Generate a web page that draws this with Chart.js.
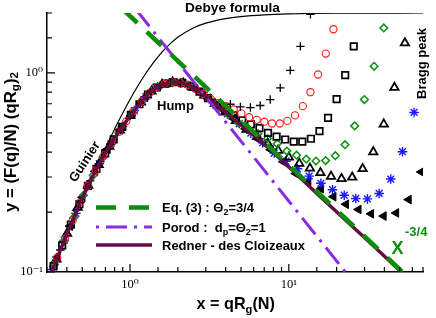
<!DOCTYPE html>
<html>
<head>
<meta charset="utf-8">
<script src="https://cdn.jsdelivr.net/npm/chart.js@4.4.1/dist/chart.umd.min.js"></script>
<style>
  html, body { margin: 0; padding: 0; background: #fff; }
</style>
</head>
<body>
<canvas id="c" width="436" height="318"></canvas>
<script>
// tick labels
const xTickValues = [1, 10];
const xTickLabels = ['10\u2070', '10\u00b9'];
const yTickValues = [0.1, 1];
const yTickLabels = ['10\u207b\u00b9', '10\u2070'];

// Debye formula
const debyeX = [0.3, 0.35, 0.4, 0.5, 0.6, 0.7, 0.8, 0.9, 1, 1.2, 1.4, 1.6, 1.8, 2, 2.5, 3, 4, 5, 7, 10, 20, 70];
const debyeY = [0.087, 0.118, 0.152, 0.230, 0.320, 0.419, 0.523, 0.629, 0.736, 0.940, 1.123, 1.279, 1.407, 1.509, 1.681, 1.778, 1.875, 1.920, 1.959, 1.980, 1.995, 2.0];

// Redner - des Cloizeaux
const rednerX = [0.288, 0.331, 0.380, 0.437, 0.501, 0.575, 0.661, 0.759, 0.871, 1.0, 1.148, 1.318, 1.514, 1.738, 1.995, 2.291, 2.630, 3.020, 3.467, 3.981, 4.571, 5.248, 6.026, 6.918, 7.943, 9.120, 10.47, 12.02, 13.80, 15.85, 31.62, 72.44];
const rednerY = [0.081, 0.107, 0.140, 0.183, 0.236, 0.297, 0.366, 0.441, 0.521, 0.607, 0.698, 0.790, 0.858, 0.892, 0.897, 0.874, 0.824, 0.759, 0.694, 0.636, 0.581, 0.530, 0.485, 0.443, 0.401, 0.361, 0.326, 0.293, 0.264, 0.238, 0.143, 0.077];

// Eq. (3) and Porod power laws
const eqX = [0.9, 70];
const eqY = [2.09, 0.080];
const porodX = [1.0, 30];
const porodY = [2.27, 0.0757];

// simulation points
const plusX = [0.364, 0.421, 0.486, 0.562, 0.650, 0.752, 0.869, 1.005, 1.161, 1.343, 1.552, 1.795, 2.075, 2.399, 2.773, 3.206, 3.707, 4.285, 4.955, 5.728, 6.607, 7.638, 8.831, 10.21, 11.83, 13.68];
const plusY = [0.129, 0.171, 0.224, 0.287, 0.358, 0.436, 0.520, 0.610, 0.706, 0.800, 0.866, 0.895, 0.892, 0.859, 0.800, 0.735, 0.710, 0.696, 0.675, 0.670, 0.686, 0.735, 0.841, 1.03, 1.36, 1.97];

const circleX = [0.348, 0.390, 0.436, 0.486, 0.545, 0.608, 0.679, 0.759, 0.849, 0.948, 1.059, 1.186, 1.324, 1.479, 1.656, 1.849, 2.065, 2.307, 2.582, 2.884, 3.221, 3.597, 4.027, 4.498, 5.023, 5.623, 6.281, 7.015, 7.834, 8.770, 9.795, 10.94, 12.25, 13.68, 15.28, 17.10, 19.10];
const circleY = [0.118, 0.147, 0.182, 0.224, 0.272, 0.324, 0.381, 0.441, 0.506, 0.573, 0.644, 0.720, 0.793, 0.849, 0.883, 0.897, 0.893, 0.872, 0.831, 0.785, 0.740, 0.705, 0.680, 0.655, 0.626, 0.599, 0.581, 0.569, 0.557, 0.557, 0.574, 0.612, 0.681, 0.800, 0.982, 1.251, 1.657];

const squareX = [0.330, 0.374, 0.424, 0.480, 0.543, 0.615, 0.697, 0.789, 0.893, 1.012, 1.146, 1.297, 1.469, 1.663, 1.884, 2.133, 2.415, 2.735, 3.097, 3.508, 3.972, 4.498, 5.093, 5.768, 6.531, 7.396, 8.375, 9.484, 10.74, 12.16, 13.77, 15.60, 17.66, 20.00, 22.65, 25.64];
const squareY = [0.107, 0.136, 0.173, 0.219, 0.271, 0.330, 0.394, 0.464, 0.536, 0.615, 0.696, 0.779, 0.845, 0.884, 0.898, 0.889, 0.857, 0.806, 0.747, 0.692, 0.650, 0.612, 0.577, 0.552, 0.528, 0.500, 0.479, 0.463, 0.452, 0.452, 0.467, 0.510, 0.595, 0.738, 0.974, 1.361];

const diamondX = [0.334, 0.385, 0.443, 0.509, 0.586, 0.675, 0.776, 0.893, 1.028, 1.183, 1.361, 1.567, 1.803, 2.075, 2.388, 2.748, 3.162, 3.639, 4.188, 4.819, 5.546, 6.383, 7.345, 8.453, 9.727, 11.19, 12.88, 14.83, 17.06, 19.63, 22.59, 26.00, 29.92, 34.43, 39.63];
const diamondY = [0.109, 0.143, 0.188, 0.243, 0.306, 0.377, 0.454, 0.536, 0.625, 0.718, 0.808, 0.869, 0.895, 0.892, 0.861, 0.804, 0.737, 0.673, 0.615, 0.561, 0.525, 0.495, 0.468, 0.441, 0.405, 0.386, 0.369, 0.361, 0.363, 0.384, 0.436, 0.542, 0.735, 1.080, 1.682];

const triangleX = [0.344, 0.401, 0.468, 0.545, 0.635, 0.740, 0.863, 1.005, 1.172, 1.365, 1.592, 1.854, 2.163, 2.518, 2.938, 3.420, 3.990, 4.645, 5.420, 6.310, 7.362, 8.570, 10.00, 11.64, 13.58, 15.81, 18.45, 21.48, 25.06, 29.17, 34.04, 39.63, 46.24, 53.83];
const triangleY = [0.116, 0.156, 0.211, 0.272, 0.346, 0.427, 0.516, 0.610, 0.712, 0.809, 0.873, 0.898, 0.887, 0.842, 0.772, 0.700, 0.635, 0.575, 0.520, 0.479, 0.443, 0.408, 0.377, 0.351, 0.332, 0.315, 0.302, 0.294, 0.299, 0.330, 0.401, 0.553, 0.845, 1.414];

const starX = [0.325, 0.385, 0.456, 0.541, 0.640, 0.759, 0.897, 1.064, 1.259, 1.493, 1.766, 2.094, 2.477, 2.931, 3.475, 4.111, 4.875, 5.768, 6.839, 8.091, 9.594, 11.35, 13.43, 15.92, 18.84, 22.34, 26.42, 31.26, 37.07, 43.85, 52.00, 61.52];
const starY = [0.103, 0.144, 0.197, 0.269, 0.350, 0.441, 0.539, 0.647, 0.760, 0.852, 0.893, 0.891, 0.848, 0.773, 0.693, 0.623, 0.557, 0.498, 0.446, 0.396, 0.360, 0.330, 0.303, 0.279, 0.259, 0.243, 0.234, 0.233, 0.248, 0.293, 0.402, 0.633];

const leftTriX = [0.349, 0.419, 0.502, 0.603, 0.723, 0.867, 1.040, 1.247, 1.496, 1.795, 2.153, 2.582, 3.097, 3.715, 4.457, 5.346, 6.412, 7.691, 9.226, 11.07, 13.27, 15.92, 19.10, 22.91, 27.48, 32.96, 39.54, 47.42, 56.89, 68.23];
const leftTriY = [0.119, 0.170, 0.237, 0.320, 0.414, 0.518, 0.632, 0.754, 0.853, 0.895, 0.888, 0.831, 0.747, 0.664, 0.591, 0.524, 0.465, 0.411, 0.358, 0.312, 0.285, 0.262, 0.239, 0.219, 0.206, 0.196, 0.191, 0.198, 0.231, 0.318];

const GREEN = '#0b8f0b';
const PURPLE = '#8a2be2';
const MAROON = '#650b45';
const sans = '"Liberation Sans", Arial, Helvetica, sans-serif';
const serif = '"Liberation Serif", "Times New Roman", "DejaVu Serif", serif';

function pts(xs, ys) {
  return xs.map((x, i) => ({ x: x, y: ys[i] }));
}

function tickLabel(v, vals, labels) {
  const i = vals.findIndex(t => Math.abs(t - v) < t * 1e-6);
  return i < 0 ? '' : labels[i];
}

function isDecade(v) {
  const l = Math.log10(v);
  return Math.abs(l - Math.round(l)) < 1e-6;
}

// writes pieces of text one after another (sub/superscripts through dy)
function runs(ctx, x, y, parts) {
  parts.forEach(p => {
    ctx.font = 'bold ' + p.s + 'px ' + sans;
    ctx.fillText(p.t, x, y + (p.dy || 0));
    x += ctx.measureText(p.t).width;
  });
}

// same, but scaled so the whole string is `w` pixels long
function runsFit(ctx, x, y, parts, w) {
  let total = 0;
  parts.forEach(p => {
    ctx.font = 'bold ' + p.s + 'px ' + sans;
    total += ctx.measureText(p.t).width;
  });
  const k = w / total;
  runs(ctx, x, y, parts.map(p => ({ t: p.t, s: p.s * k, dy: (p.dy || 0) * k })));
}

// tick marks pointing into the plot
const axisTicks = {
  id: 'axisTicks',
  afterDraw(chart) {
    const { ctx, chartArea: a } = chart;
    const xs = chart.scales.x, ys = chart.scales.y;
    ctx.save();
    ctx.strokeStyle = '#000';
    ctx.lineWidth = 1.2;
    ctx.beginPath();
    xs.ticks.forEach(t => {
      const p = xs.getPixelForValue(t.value);
      const len = isDecade(t.value) ? 8 : 5;
      ctx.moveTo(p, a.bottom);
      ctx.lineTo(p, a.bottom - len);
    });
    ys.ticks.forEach(t => {
      const p = ys.getPixelForValue(t.value);
      const len = isDecade(t.value) ? 8 : 5;
      ctx.moveTo(a.left, p);
      ctx.lineTo(a.left + len, p);
    });
    ctx.stroke();
    ctx.restore();
  }
};

const legendRows = [
  { ds: 0, y: 207.5, parts: [{ t: 'Eq. (3) : \u0398', s: 13 }, { t: '2', s: 9, dy: 3 }, { t: '=3/4', s: 13 }] },
  { ds: 1, y: 227, parts: [{ t: 'Porod :  d', s: 13 }, { t: 'p', s: 9, dy: 3 }, { t: '=\u0398', s: 13 }, { t: '2', s: 9, dy: 3 }, { t: '=1', s: 13 }] },
  { ds: 2, y: 245, parts: [{ t: 'Redner - des Cloizeaux', s: 13 }] }
];

const legendBox = {
  id: 'legendBox',
  afterDraw(chart) {
    const ctx = chart.ctx;
    ctx.save();
    legendRows.forEach(r => {
      const d = chart.data.datasets[r.ds];
      ctx.strokeStyle = d.borderColor;
      ctx.lineWidth = d.borderWidth;
      ctx.setLineDash(d.borderDash || []);
      ctx.lineCap = 'butt';
      ctx.beginPath();
      ctx.moveTo(96, r.y);
      ctx.lineTo(152, r.y);
      ctx.stroke();
      ctx.setLineDash([]);
      ctx.fillStyle = '#000';
      ctx.textBaseline = 'alphabetic';
      runs(ctx, 162, r.y + 4.7, r.parts);
    });
    ctx.restore();
  }
};

const notes = {
  id: 'notes',
  afterDraw(chart) {
    const ctx = chart.ctx;
    ctx.save();
    ctx.fillStyle = '#000';
    ctx.textAlign = 'left';
    ctx.textBaseline = 'alphabetic';
    runsFit(ctx, 185, 11.5, [{ t: 'Debye formula', s: 13 }], 95);
    runs(ctx, 157, 109.5, [{ t: 'Hump', s: 13 }]);

    ctx.save();
    ctx.translate(85, 162);
    ctx.rotate(-57 * Math.PI / 180);
    ctx.textAlign = 'center';
    ctx.textBaseline = 'middle';
    ctx.font = 'bold 13px ' + sans;
    ctx.fillText('Guinier', 0, 0);
    ctx.restore();

    ctx.save();
    ctx.translate(425.5, 63.5);
    ctx.rotate(-Math.PI / 2);
    ctx.textAlign = 'center';
    ctx.font = 'bold 13px ' + sans;
    ctx.fillText('Bragg peak', 0, 0);
    ctx.restore();

    ctx.fillStyle = GREEN;
    runs(ctx, 391.5, 253.5, [{ t: 'X', s: 18 }]);
    runs(ctx, 405, 235.5, [{ t: '-3/4', s: 13 }]);

    ctx.fillStyle = '#000';
    runsFit(ctx, 196.5, 308.5, [{ t: 'x = qR', s: 16 }, { t: 'g', s: 11, dy: 4 }, { t: '(N)', s: 16 }], 78.5);

    ctx.save();
    ctx.translate(15.5, 212);
    ctx.rotate(-Math.PI / 2);
    runsFit(ctx, 0, 0, [{ t: 'y = (F(q)/N) (qR', s: 16 }, { t: 'g', s: 11, dy: 3.5 }, { t: ')', s: 16 }, { t: '2', s: 11, dy: 2 }], 140);
    ctx.restore();

    ctx.restore();
  }
};

function marker(label, xs, ys, style, color, radius, width, fill, rotation) {
  return {
    label: label,
    data: pts(xs, ys),
    pointStyle: style,
    pointRadius: radius,
    pointBorderColor: color,
    pointBackgroundColor: fill || 'rgba(0,0,0,0)',
    pointBorderWidth: width,
    pointRotation: rotation || 0,
    showLine: false,
    order: 2
  };
}

new Chart(document.getElementById('c'), {
  type: 'scatter',
  data: {
    datasets: [
      { label: 'Eq. (3)', data: pts(eqX, eqY), showLine: true, pointRadius: 0, borderColor: GREEN, borderWidth: 4.5, borderDash: [20, 13], borderCapStyle: 'butt', order: 0 },
      { label: 'Porod', data: pts(porodX, porodY), showLine: true, pointRadius: 0, borderColor: PURPLE, borderWidth: 3, borderDash: [3, 7, 21, 7], borderCapStyle: 'butt', order: 0 },
      { label: 'Redner - des Cloizeaux', data: pts(rednerX, rednerY), showLine: true, pointRadius: 0, borderColor: MAROON, borderWidth: 3.5, cubicInterpolationMode: 'monotone', order: 1 },
      { label: 'Debye formula', data: pts(debyeX, debyeY), showLine: true, pointRadius: 0, borderColor: '#000', borderWidth: 1.2, cubicInterpolationMode: 'monotone', order: 1 },
      marker('plus', plusX, plusY, 'cross', '#000', 4.2, 1.3),
      marker('circle', circleX, circleY, 'circle', '#ff1a1a', 3.6, 1.1),
      marker('square', squareX, squareY, 'rect', '#000', 4.6, 1.7),
      marker('diamond', diamondX, diamondY, 'rectRot', GREEN, 3.8, 1.5),
      marker('triangle', triangleX, triangleY, 'triangle', '#000', 4.8, 1.8),
      marker('star', starX, starY, 'star', '#1a1aff', 4.8, 1.4),
      marker('leftTri', leftTriX, leftTriY, 'triangle', '#000', 5, 1, '#000', -90)
    ]
  },
  options: {
    responsive: false,
    animation: false,
    devicePixelRatio: 1,
    layout: { padding: { top: 13, right: 13, left: 0, bottom: 0 } },
    plugins: { legend: { display: false }, tooltip: { enabled: false } },
    scales: {
      x: {
        type: 'logarithmic',
        position: 'bottom',
        min: 0.3,
        max: 70,
        grid: { display: false, drawTicks: false },
        border: { display: true, color: '#000', width: 1.5 },
        ticks: {
          autoSkip: false,
          maxRotation: 0,
          padding: 5,
          color: '#000',
          font: { family: serif, size: 12.5 },
          callback: v => tickLabel(v, xTickValues, xTickLabels)
        },
        afterFit: s => { s.height = 46; }
      },
      y: {
        type: 'logarithmic',
        position: 'left',
        min: 0.1,
        max: 2,
        grid: { display: false, drawTicks: false },
        border: { display: true, color: '#000', width: 1.5 },
        ticks: {
          autoSkip: false,
          padding: 4,
          color: '#000',
          font: { family: serif, size: 12.5 },
          callback: v => tickLabel(v, yTickValues, yTickLabels)
        },
        afterFit: s => { s.width = 47; }
      }
    }
  },
  plugins: [axisTicks, notes, legendBox]
});
</script>
</body>
</html>
